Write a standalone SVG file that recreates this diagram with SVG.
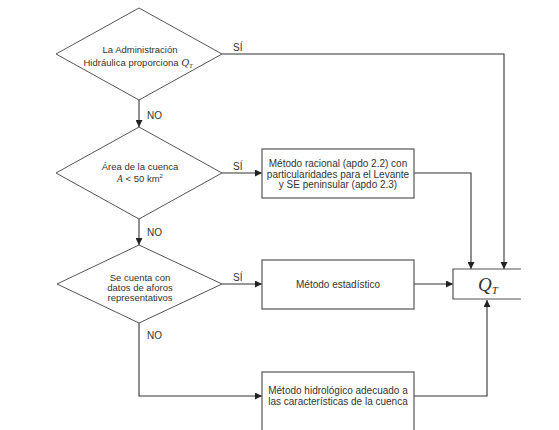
<svg xmlns="http://www.w3.org/2000/svg" width="559" height="430" viewBox="0 0 559 430">
<style>
.shape{fill:#fff;stroke:#555;stroke-width:1}
.box{fill:#fff;stroke:#555;stroke-width:1.2}
.con{fill:none;stroke:#333;stroke-width:1.1}
.t{font-family:"Liberation Sans",Arial,sans-serif;font-size:9.5px;fill:#333;text-anchor:middle}
.bt{font-size:10px}
.lbl{font-family:"Liberation Sans",Arial,sans-serif;font-size:10px;fill:#333}
.q{font-family:"Liberation Serif","Times New Roman",serif;font-style:italic;fill:#333}
</style>
<defs>
<marker id="ah" viewBox="0 0 10 10" refX="10" refY="5" markerWidth="7" markerHeight="7" markerUnits="userSpaceOnUse" orient="auto">
<path d="M0,0 L10,5 L0,10 z" fill="#222"/>
</marker>
</defs>
<rect width="559" height="430" fill="#fff"/>
<g id="connectors">
<path class="con" d="M222,54 H504 V269" marker-end="url(#ah)"/>
<path class="con" d="M139,100 V127" marker-end="url(#ah)"/>
<path class="con" d="M222,173 H262" marker-end="url(#ah)"/>
<path class="con" d="M414,173 H471 V269" marker-end="url(#ah)"/>
<path class="con" d="M139,219 V245" marker-end="url(#ah)"/>
<path class="con" d="M222,284 H262" marker-end="url(#ah)"/>
<path class="con" d="M414,284 H453" marker-end="url(#ah)"/>
<path class="con" d="M139,323 V396 H262" marker-end="url(#ah)"/>
<path class="con" d="M414,396 H487 V300" marker-end="url(#ah)"/>
<text class="lbl" x="233" y="51">SÍ</text>
<text class="lbl" x="147" y="119">NO</text>
<text class="lbl" x="233" y="170">SÍ</text>
<text class="lbl" x="147" y="236">NO</text>
<text class="lbl" x="233" y="281">SÍ</text>
<text class="lbl" x="147" y="339">NO</text>
</g>
<g id="d1">
<polygon class="shape" points="139,8 222,54 139,100 56,54"/>
<text class="t" x="140" y="53">La Administración</text>
<text class="t" x="138" y="66">Hidráulica proporciona <tspan class="q" font-size="11">Q</tspan><tspan class="q" font-size="6" dy="2">T</tspan></text>
</g>
<g id="d2">
<polygon class="shape" points="139,127 222,173 139,219 56,173"/>
<text class="t" x="140" y="170">Área de la cuenca</text>
<text class="t" x="140" y="182"><tspan class="q">A</tspan> &lt; 50 km<tspan font-size="6" dy="-4">2</tspan></text>
</g>
<g id="d3">
<polygon class="shape" points="139,245 222,284 139,323 57,284"/>
<text class="t" x="140" y="281">Se cuenta con</text>
<text class="t" x="140" y="291">datos de aforos</text>
<text class="t" x="140" y="301">representativos</text>
</g>
<g id="b1">
<rect class="box" x="262" y="149" width="152" height="49"/>
<text class="t bt" x="338" y="167">Método racional (apdo 2.2) con</text>
<text class="t bt" x="338" y="177.5">particularidades para el Levante</text>
<text class="t bt" x="338" y="188">y SE peninsular (apdo 2.3)</text>
</g>
<g id="b2">
<rect class="box" x="262" y="260" width="152" height="49"/>
<text class="t bt" x="338" y="288">Método estadístico</text>
</g>
<g id="b3">
<rect class="box" x="262" y="372" width="152" height="70"/>
<text class="t bt" x="338" y="394">Método hidrológico adecuado a</text>
<text class="t bt" x="338" y="405">las características de la cuenca</text>
</g>
<g id="qt">
<path class="box" fill="none" d="M521,269 H453 V299 H521"/>
<text class="q" x="478" y="291" font-size="19">Q<tspan font-size="11" dy="3">T</tspan></text>
</g>
</svg>
